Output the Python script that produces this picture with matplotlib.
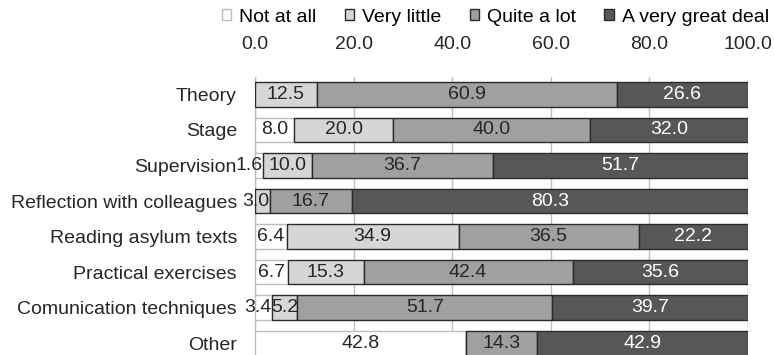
import numpy as np
import matplotlib.pyplot as plt

plt.rcParams['font.family'] = ['Liberation Sans', 'DejaVu Sans']

categories = ["Theory", "Stage", "Supervision", "Reflection with colleagues",
              "Reading asylum texts", "Practical exercises",
              "Comunication techniques", "Other"]
levels = ["Not at all", "Very little", "Quite a lot", "A very great deal"]

not_at_all = [0.0, 8.0, 1.6, 0.0, 6.4, 6.7, 3.4, 42.8]
very_little = [12.5, 20.0, 10.0, 3.0, 34.9, 15.3, 5.2, 0.0]
quite_a_lot = [60.9, 40.0, 36.7, 16.7, 36.5, 42.4, 51.7, 14.3]
great_deal = [26.6, 32.0, 51.7, 80.3, 22.2, 35.6, 39.7, 42.9]

fills = ["#ffffff", "#d6d6d6", "#a0a0a0", "#575757"]
edges = ["#bdbdbd", "#2a2a2a", "#2a2a2a", "#2a2a2a"]
text_cols = ["#262626", "#262626", "#262626", "#ffffff"]
FS = 14

fig = plt.figure(figsize=(7.74, 3.55), dpi=100)
ax = fig.add_axes([0.3295, -0.016, 0.637, 0.799])

y = np.arange(len(categories))
left = np.zeros(len(categories))
handles = []
for vals, name, fc, ec, tc in zip([not_at_all, very_little, quite_a_lot, great_deal],
                                  levels, fills, edges, text_cols):
    vals = np.array(vals)
    bars = ax.barh(y, vals, left=left, height=0.69, color=fc, edgecolor=ec,
                   linewidth=1.0, label=name, zorder=3)
    handles.append(bars)
    for yi, v, l in zip(y, vals, left):
        if v <= 0:
            continue
        if v < 4:
            # tiny segments: label hangs off to the left of the segment end
            ax.text(l + v, yi, f"{v:.1f}", ha="right", va="center",
                    fontsize=FS, color=tc, zorder=4)
        else:
            ax.text(l + v / 2, yi, f"{v:.1f}", ha="center", va="center",
                    fontsize=FS, color=tc, zorder=4)
    left = left + vals

ax.set_xlim(0, 100)
ax.set_ylim(len(categories) - 0.51, -0.49)
ax.set_xticks(np.arange(0, 101, 20))
ax.set_xticklabels([f"{t:.1f}" for t in np.arange(0, 101, 20)])
ax.xaxis.tick_top()
ax.tick_params(axis="x", length=0, pad=17, labelsize=FS, colors="#262626")
ax.set_yticks(y)
ax.set_yticklabels(categories)
ax.tick_params(axis="y", length=0, pad=13, labelsize=FS, colors="#262626")
ax.grid(axis="x", color="#bfbfbf", linewidth=1.0, zorder=0)
for s in ["top", "right", "bottom"]:
    ax.spines[s].set_visible(False)
ax.spines["left"].set_color("#bfbfbf")
ax.spines["left"].set_linewidth(1.0)

fig.legend(handles=handles, labels=levels, loc="center", ncol=4,
           bbox_to_anchor=(0.640, 0.952), frameon=False, fontsize=FS,
           handlelength=0.5, handleheight=0.5, handletextpad=0.4,
           columnspacing=1.45, borderaxespad=0, borderpad=0)

fig.savefig("out.png", dpi=100)
